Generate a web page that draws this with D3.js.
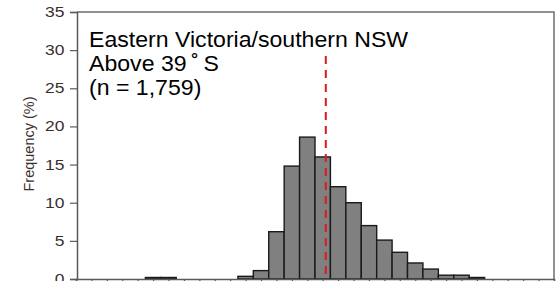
<!DOCTYPE html>
<html>
<head>
<meta charset="utf-8">
<script src="https://cdn.jsdelivr.net/npm/d3@7"></script>
<style>
  html, body { margin: 0; padding: 0; background: #fff; overflow: hidden; }
  svg { display: block; font-family: "Liberation Sans", Arial, sans-serif; }
</style>
</head>
<body>
<svg id="chart" width="557" height="281"></svg>
<script>
'use strict';

/* histogram bins (index along the x axis) and their frequency in % */
const bins = d3.range(0, 32);
const freq = [0, 0, 0, 0, 0, 0.2, 0.2, 0, 0, 0, 0, 0.35, 1.1, 6.2, 14.8, 18.6,
  16.0, 12.1, 10.0, 7.0, 5.1, 3.5, 2.1, 1.3, 0.5, 0.5, 0.2, 0, 0, 0, 0, 0];
const yTicks = [0, 5, 10, 15, 20, 25, 30, 35];
/* position of the mean, in bin units */
const meanBin = 16.2;
const titleLines = ['Eastern Victoria/southern NSW', 'Above 39\u2009\u02DA\u2009S', '(n = 1,759)'];

const svg = d3.select('#chart');
const plotL = 77, plotR = 554, plotT = 12, plotB = 279;

const x = d3.scaleLinear().domain([0, 31]).range([plotL - 1, plotR]);
const y = d3.scaleLinear().domain([0, 35]).range([plotB, plotT]);
const bw = x(1) - x(0);

/* bars */
svg.append('g')
  .selectAll('rect')
  .data(bins.filter(function(i){ return freq[i] > 0; }))
  .enter().append('rect')
  .attr('x', function(i){ return x(i) - bw / 2; })
  .attr('y', function(i){ return y(freq[i]); })
  .attr('width', bw)
  .attr('height', function(i){ return y(0) - y(freq[i]); })
  .style('fill', '#808080')
  .style('stroke', '#1a1a1a')
  .style('stroke-width', 1.4);

/* frame: top and right edges */
svg.append('path')
  .attr('d', 'M' + plotL + ',' + plotT + 'H' + plotR + 'V' + plotB)
  .style('fill', 'none')
  .style('stroke', '#6e6e6e')
  .style('stroke-width', 1.5);

/* y axis */
const yAxis = svg.append('g')
  .attr('transform', 'translate(' + plotL + ',0)')
  .call(d3.axisLeft(y).tickValues(yTicks).tickSize(7).tickPadding(3));
yAxis.select('.domain').style('stroke', '#5a5a5a').style('stroke-width', 1.5);
yAxis.selectAll('.tick line').style('stroke', '#5a5a5a').style('stroke-width', 1.2);
/* the labels in the original look widened, so stretch them a bit */
yAxis.selectAll('.tick text')
  .attr('transform', 'scale(1.25,1)')
  .style('font-size', '14px')
  .style('fill', '#3a3030')
  .style('font-family', '"Liberation Sans", Arial, sans-serif');

/* x axis: tick marks only, the labels fall outside the picture */
const xAxis = svg.append('g')
  .attr('transform', 'translate(0,' + plotB + ')')
  .call(d3.axisBottom(x).tickValues(bins).tickSize(4).tickFormat(''));
xAxis.select('.domain').style('stroke', '#5a5a5a').style('stroke-width', 1.5);
xAxis.selectAll('.tick line').style('stroke', '#5a5a5a').style('stroke-width', 1.2);

/* y label */
svg.append('text')
  .attr('transform', 'translate(34,144) rotate(-90)')
  .attr('text-anchor', 'middle')
  .style('font-size', '14.5px')
  .style('fill', '#3a3030')
  .text('Frequency (%)');

/* mean line */
svg.append('line')
  .attr('x1', x(meanBin)).attr('x2', x(meanBin))
  .attr('y1', 56).attr('y2', plotB)
  .style('stroke', '#d81c1c')
  .style('stroke-width', 2)
  .style('stroke-dasharray', '8,6');

/* annotation */
svg.append('g')
  .attr('transform', 'translate(89,0) scale(1.05,1)')
  .selectAll('text')
  .data(titleLines)
  .enter().append('text')
  .attr('x', 0)
  .attr('y', function(d, i){ return 47 + i * 24; })
  .style('font-size', '22px')
  .style('fill', '#000')
  .text(function(d){ return d; });
</script>
</body>
</html>
